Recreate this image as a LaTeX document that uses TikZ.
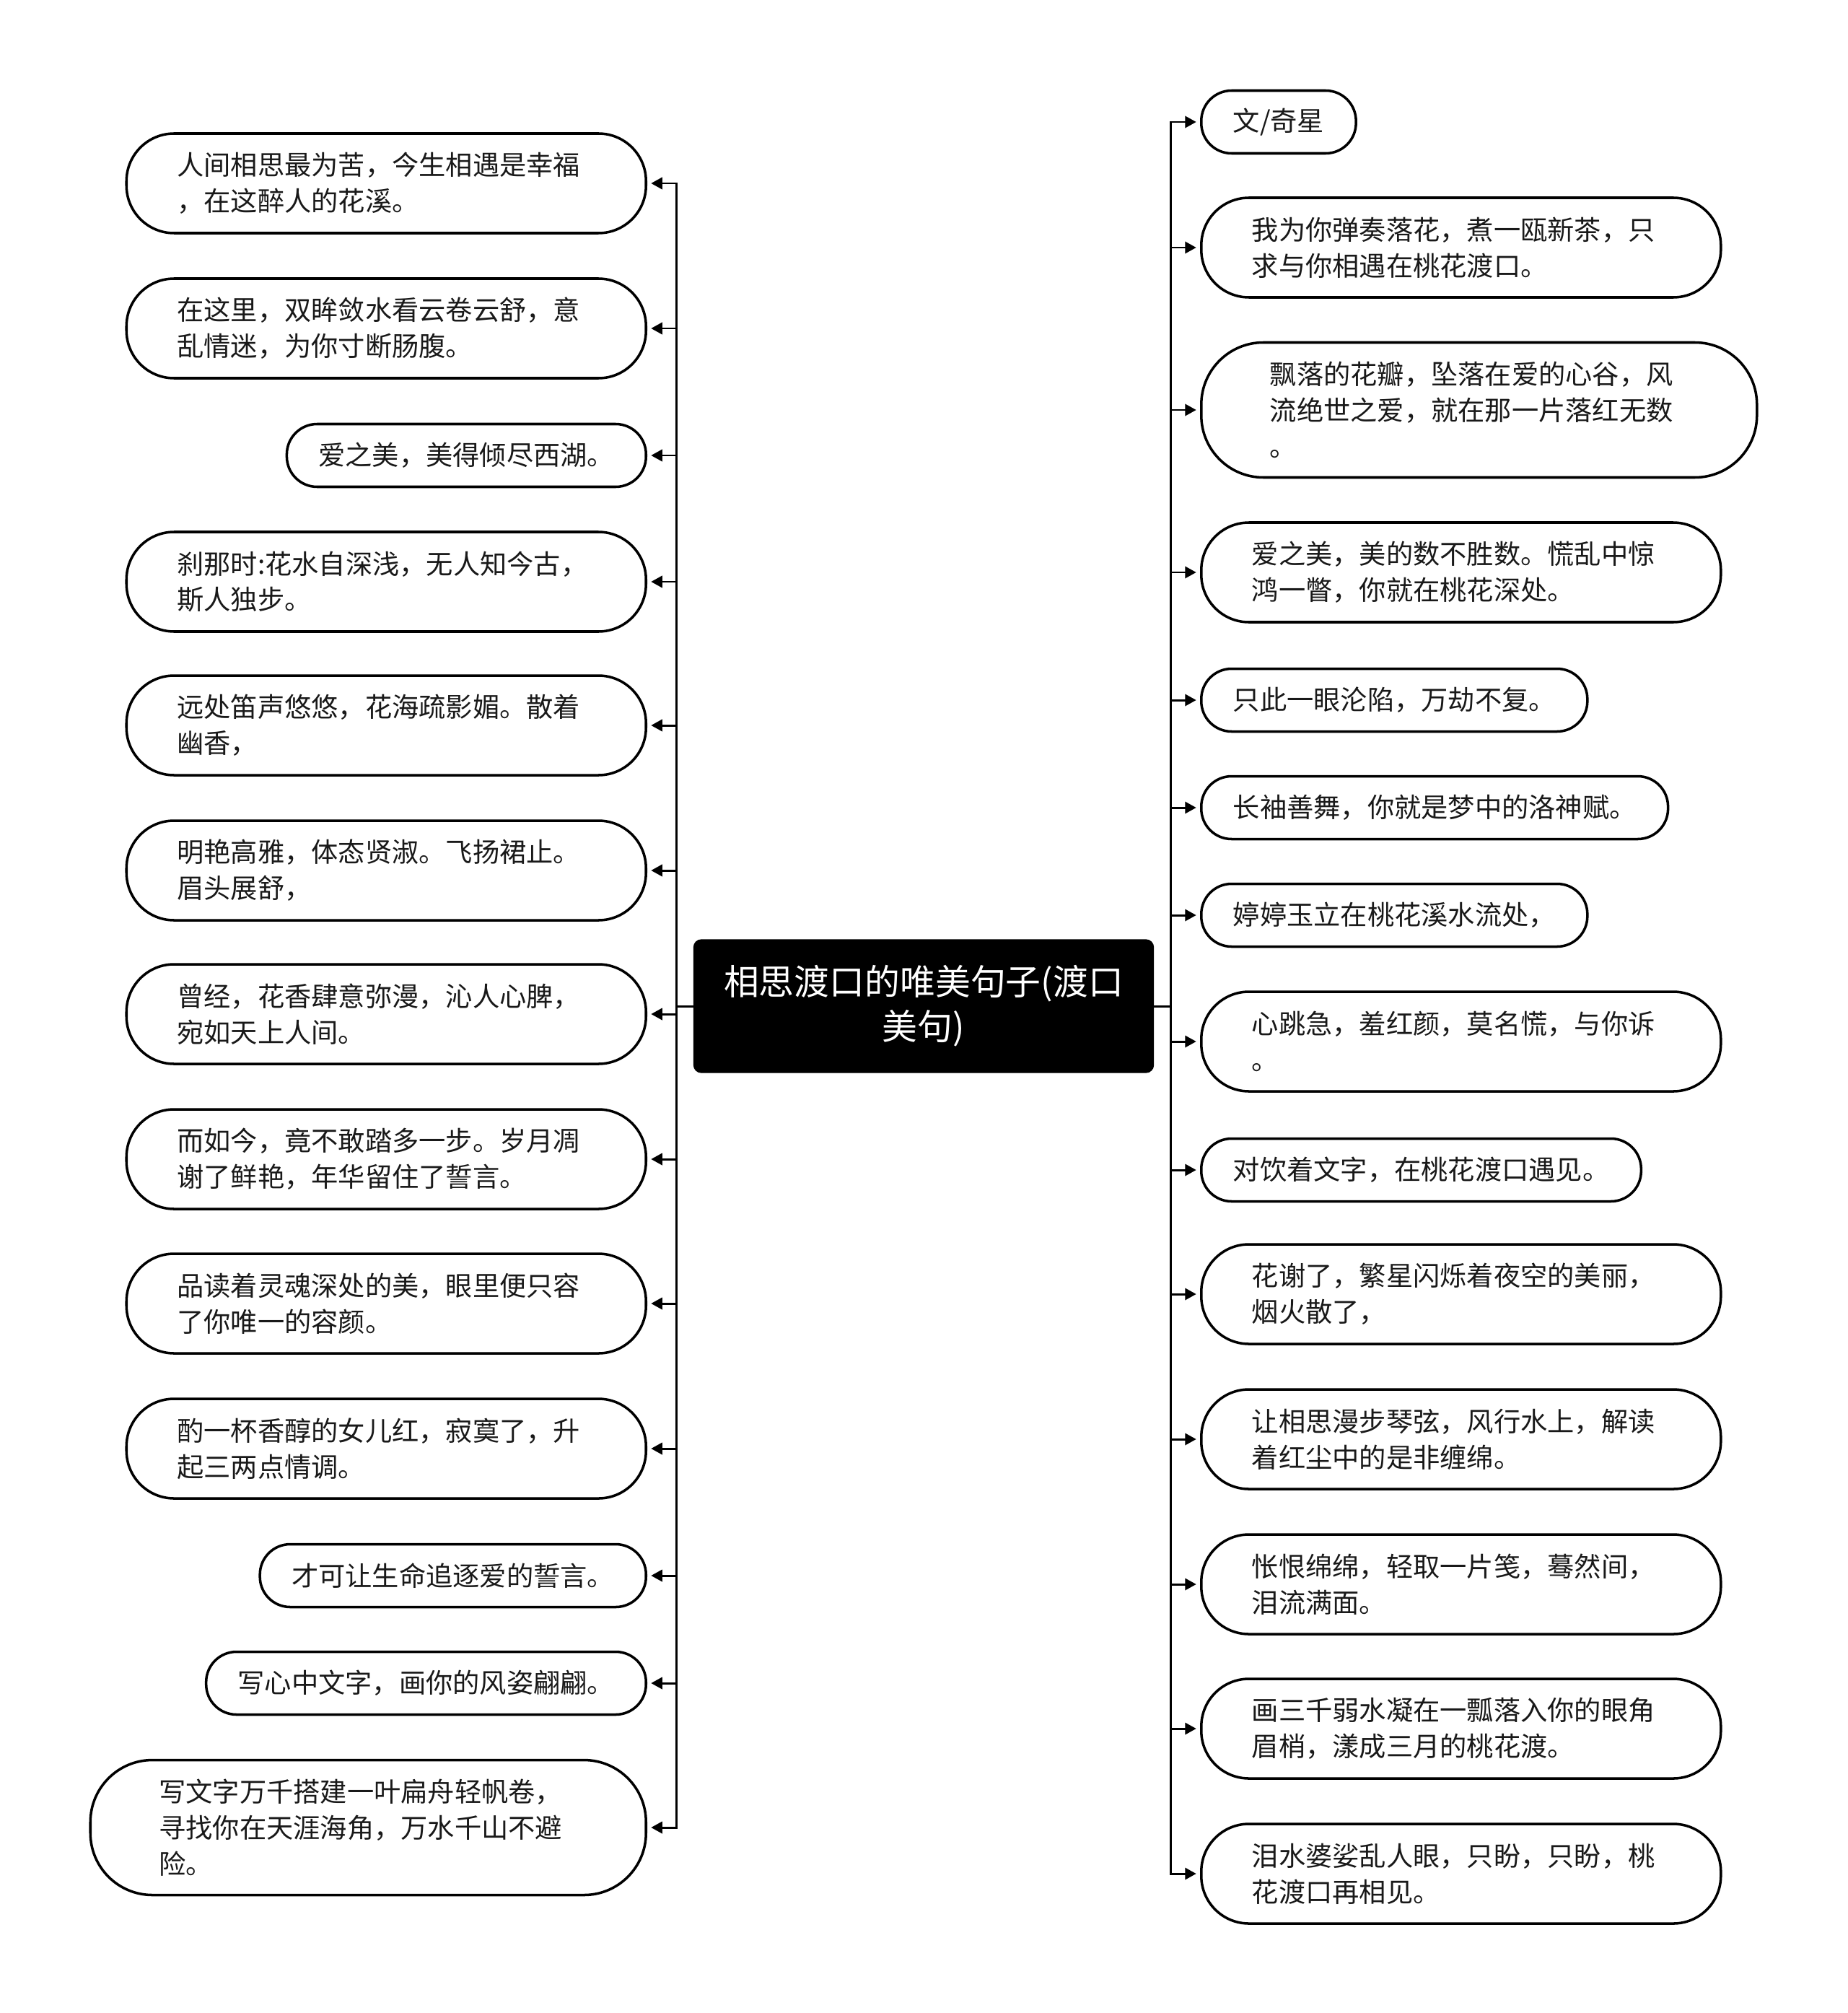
\documentclass[tikz,border=0pt]{standalone}
\usepackage{fontspec}
\newfontfamily\cjk{Noto Sans CJK SC}
\usepackage{tikz}
\usetikzlibrary{arrows.meta,positioning}
\definecolor{mmline}{RGB}{0,0,0}
\definecolor{mmtext}{RGB}{25,25,25}

\begin{document}
\begin{tikzpicture}[
    root/.style={draw=mmline,fill=black,rounded corners=3pt,text=white,
                 minimum width=6.37cm,minimum height=1.84cm,align=center,
                 font=\cjk\fontsize{13.9pt}{17.7pt}\selectfont},
    leaf/.style={draw=mmline,fill=white,line width=1pt,rounded corners=#1,
                 align=left,text=mmtext,inner ysep=0pt,
                 font=\cjk\fontsize{10.6pt}{14.2pt}\selectfont},
    leaf/.default=0.66cm,
    one/.style={leaf=0.42cm,minimum height=0.87cm,inner xsep=0.44cm},
    two/.style={leaf,minimum height=1.38cm,text width=5.8cm,inner xsep=0.7cm},
    three/.style={leaf=0.86cm,minimum height=1.87cm,text width=5.8cm,inner xsep=0.95cm},
    arr/.style={-{Triangle[length=4.4pt,width=4.6pt]},line width=0.85pt,mmline,shorten >=1.5pt}
  ]
    \useasboundingbox (0,0) rectangle (25.6,-27.89);

    \node[root] (root) at (12.80,-13.94) {相思渡口的唯美句子(渡口\\美句)};

    % left side
    \node[two,anchor=east] (l1) at (8.97,-2.54) {人间相思最为苦，今生相遇是幸福\\，在这醉人的花溪。};
    \node[two,anchor=east] (l2) at (8.97,-4.55) {在这里，双眸敛水看云卷云舒，意\\乱情迷，为你寸断肠腹。};
    \node[one,anchor=east] (l3) at (8.97,-6.31) {爱之美，美得倾尽西湖。};
    \node[two,anchor=east] (l4) at (8.97,-8.06) {刹那时:花水自深浅，无人知今古，\\斯人独步。};
    \node[two,anchor=east] (l5) at (8.97,-10.05) {远处笛声悠悠，花海疏影媚。散着\\幽香，};
    \node[two,anchor=east] (l6) at (8.97,-12.06) {明艳高雅，体态贤淑。飞扬裙止。\\眉头展舒，};
    \node[two,anchor=east] (l7) at (8.97,-14.05) {曾经，花香肆意弥漫，沁人心脾，\\宛如天上人间。};
    \node[two,anchor=east] (l8) at (8.97,-16.06) {而如今，竟不敢踏多一步。岁月凋\\谢了鲜艳，年华留住了誓言。};
    \node[two,anchor=east] (l9) at (8.97,-18.06) {品读着灵魂深处的美，眼里便只容\\了你唯一的容颜。};
    \node[two,anchor=east] (l10) at (8.97,-20.07) {酌一杯香醇的女儿红，寂寞了，升\\起三两点情调。};
    \node[one,anchor=east] (l11) at (8.97,-21.83) {才可让生命追逐爱的誓言。};
    \node[one,anchor=east] (l12) at (8.97,-23.32) {写心中文字，画你的风姿翩翩。};
    \node[three,anchor=east] (l13) at (8.97,-25.32) {写文字万千搭建一叶扁舟轻帆卷，\\寻找你在天涯海角，万水千山不避\\险。};

    % right side
    \node[one,anchor=west] (r1) at (16.63,-1.69) {文/奇星};
    \node[two,anchor=west] (r2) at (16.63,-3.43) {我为你弹奏落花，煮一瓯新茶，只\\求与你相遇在桃花渡口。};
    \node[three,anchor=west] (r3) at (16.63,-5.68) {飘落的花瓣，坠落在爱的心谷，风\\流绝世之爱，就在那一片落红无数\\。};
    \node[two,anchor=west] (r4) at (16.63,-7.93) {爱之美，美的数不胜数。慌乱中惊\\鸿一瞥，你就在桃花深处。};
    \node[one,anchor=west] (r5) at (16.63,-9.70) {只此一眼沦陷，万劫不复。};
    \node[one,anchor=west] (r6) at (16.63,-11.19) {长袖善舞，你就是梦中的洛神赋。};
    \node[one,anchor=west] (r7) at (16.63,-12.68) {婷婷玉立在桃花溪水流处，};
    \node[two,anchor=west] (r8) at (16.63,-14.43) {心跳急，羞红颜，莫名慌，与你诉\\。};
    \node[one,anchor=west] (r9) at (16.63,-16.21) {对饮着文字，在桃花渡口遇见。};
    \node[two,anchor=west] (r10) at (16.63,-17.93) {花谢了，繁星闪烁着夜空的美丽，\\烟火散了，};
    \node[two,anchor=west] (r11) at (16.63,-19.94) {让相思漫步琴弦，风行水上，解读\\着红尘中的是非缠绵。};
    \node[two,anchor=west] (r12) at (16.63,-21.95) {怅恨绵绵，轻取一片笺，蓦然间，\\泪流满面。};
    \node[two,anchor=west] (r13) at (16.63,-23.95) {画三千弱水凝在一瓢落入你的眼角\\眉梢，漾成三月的桃花渡。};
    \node[two,anchor=west] (r14) at (16.63,-25.96) {泪水婆娑乱人眼，只盼，只盼，桃\\花渡口再相见。};

    \draw[arr] (root.west) -- ++(-0.23,0) |- (l1.east);
    \draw[arr] (root.west) -- ++(-0.23,0) |- (l2.east);
    \draw[arr] (root.west) -- ++(-0.23,0) |- (l3.east);
    \draw[arr] (root.west) -- ++(-0.23,0) |- (l4.east);
    \draw[arr] (root.west) -- ++(-0.23,0) |- (l5.east);
    \draw[arr] (root.west) -- ++(-0.23,0) |- (l6.east);
    \draw[arr] (root.west) -- ++(-0.23,0) |- (l7.east);
    \draw[arr] (root.west) -- ++(-0.23,0) |- (l8.east);
    \draw[arr] (root.west) -- ++(-0.23,0) |- (l9.east);
    \draw[arr] (root.west) -- ++(-0.23,0) |- (l10.east);
    \draw[arr] (root.west) -- ++(-0.23,0) |- (l11.east);
    \draw[arr] (root.west) -- ++(-0.23,0) |- (l12.east);
    \draw[arr] (root.west) -- ++(-0.23,0) |- (l13.east);

    \draw[arr] (root.east) -- ++(0.23,0) |- (r1.west);
    \draw[arr] (root.east) -- ++(0.23,0) |- (r2.west);
    \draw[arr] (root.east) -- ++(0.23,0) |- (r3.west);
    \draw[arr] (root.east) -- ++(0.23,0) |- (r4.west);
    \draw[arr] (root.east) -- ++(0.23,0) |- (r5.west);
    \draw[arr] (root.east) -- ++(0.23,0) |- (r6.west);
    \draw[arr] (root.east) -- ++(0.23,0) |- (r7.west);
    \draw[arr] (root.east) -- ++(0.23,0) |- (r8.west);
    \draw[arr] (root.east) -- ++(0.23,0) |- (r9.west);
    \draw[arr] (root.east) -- ++(0.23,0) |- (r10.west);
    \draw[arr] (root.east) -- ++(0.23,0) |- (r11.west);
    \draw[arr] (root.east) -- ++(0.23,0) |- (r12.west);
    \draw[arr] (root.east) -- ++(0.23,0) |- (r13.west);
    \draw[arr] (root.east) -- ++(0.23,0) |- (r14.west);
  \end{tikzpicture}
\end{document}
